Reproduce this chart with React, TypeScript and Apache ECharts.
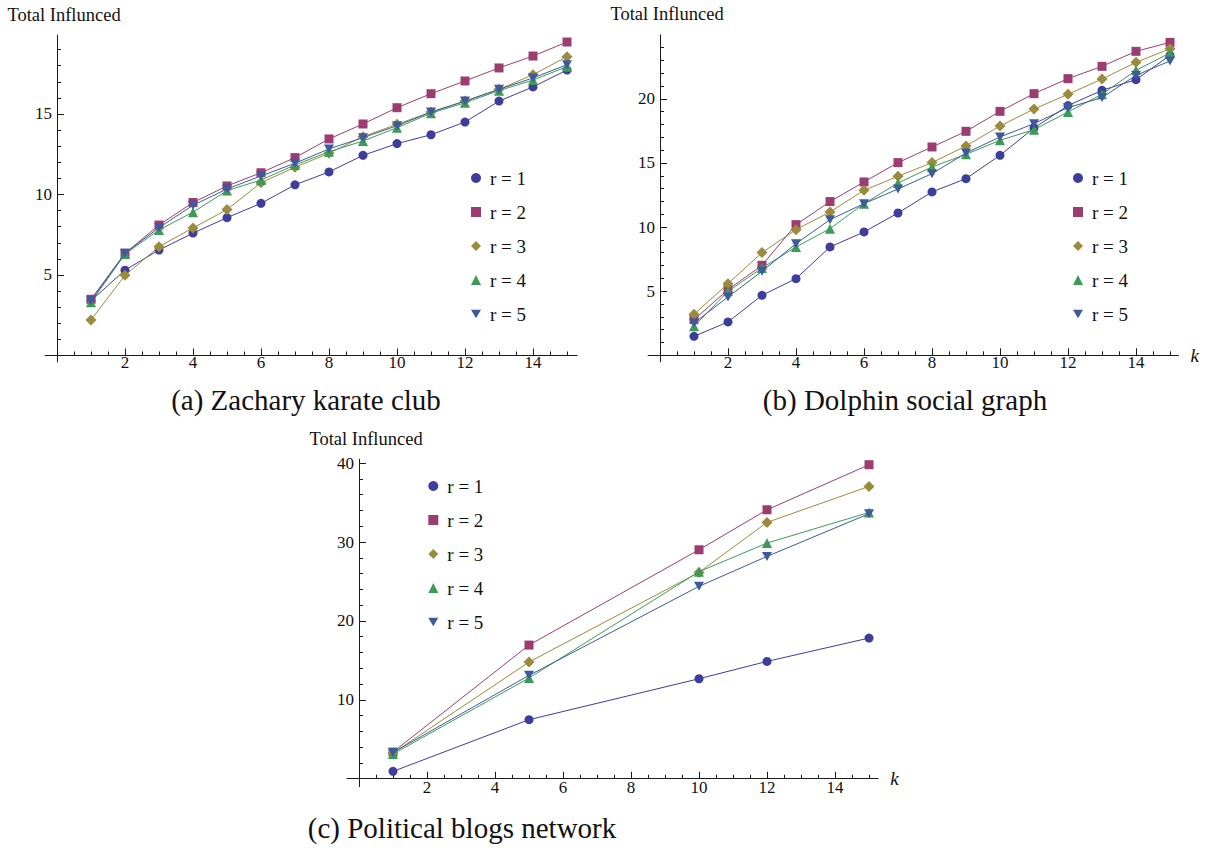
import React, { useEffect, useRef } from 'react';
import * as echarts from 'echarts';

const FONT = 'Liberation Serif';

const SERIES_NAMES = ['r = 1', 'r = 2', 'r = 3', 'r = 4', 'r = 5'];
const COLORS = ['#3d3d9b', '#9b3d71', '#9a8b3d', '#3d9a57', '#3d5a9b'];
const SYMBOLS = ['circle', 'rect', 'diamond', 'triangle', 'path://M0,0L10,0L5,8.66Z'];
const SYMBOL_SIZES: any[] = [9, 9, 11, 10, [10, 9]];
const LEGEND_ICONS = ['circle', 'rect', 'diamond', 'triangle', 'path://M0,0L10,0L5,8.66Z'];

// x values
const K15 = [1, 2, 3, 4, 5, 6, 7, 8, 9, 10, 11, 12, 13, 14, 15];
const K_BLOGS = [1, 5, 10, 12, 15];

// (a) Zachary karate club
const karateR1 = [3.4, 5.3, 6.55, 7.6, 8.56, 9.45, 10.6, 11.4, 12.43, 13.16, 13.71, 14.5, 15.8, 16.68, 17.73];
const karateR2 = [3.49, 6.35, 8.1, 9.5, 10.53, 11.35, 12.29, 13.45, 14.38, 15.39, 16.26, 17.05, 17.86, 18.6, 19.47];
const karateR3 = [2.2, 4.98, 6.76, 7.92, 9.06, 10.73, 11.69, 12.56, 13.59, 14.36, 15.12, 15.8, 16.53, 17.44, 18.56];
const karateR4 = [3.3, 6.3, 7.8, 8.9, 10.24, 10.9, 11.83, 12.66, 13.32, 14.15, 15.05, 15.7, 16.45, 17.11, 17.94];
const karateR5 = [3.4, 6.35, 7.94, 9.33, 10.34, 11.15, 11.94, 12.83, 13.53, 14.27, 15.12, 15.8, 16.53, 17.24, 18.06];

// (b) Dolphin social graph
const dolphinR1 = [1.48, 2.6, 4.68, 5.98, 8.45, 9.62, 11.1, 12.74, 13.78, 15.6, 17.73, 19.48, 20.67, 21.5, 23.4];
const dolphinR2 = [2.78, 5.12, 7.02, 10.19, 11.99, 13.52, 15.03, 16.25, 17.47, 19.03, 20.41, 21.58, 22.54, 23.71, 24.41];
const dolphinR3 = [3.2, 5.59, 8.01, 9.8, 11.18, 12.87, 13.96, 15.03, 16.33, 17.89, 19.21, 20.36, 21.55, 22.85, 23.92];
const dolphinR4 = [2.26, 4.99, 6.81, 8.45, 9.88, 11.83, 13.44, 14.69, 15.68, 16.77, 17.6, 18.98, 20.36, 22.23, 23.58];
const dolphinR5 = [2.52, 4.55, 6.55, 8.71, 10.58, 11.83, 12.97, 14.17, 15.78, 17.03, 18.07, 19.32, 20.1, 21.84, 22.96];

// (c) Political blogs network
const blogsR1 = [0.93, 7.48, 12.67, 14.87, 17.83];
const blogsR2 = [3.38, 16.94, 29.02, 34.09, 39.8];
const blogsR3 = [3.25, 14.79, 26.15, 32.49, 37.05];
const blogsR4 = [3.13, 12.76, 26.24, 29.87, 33.75];
const blogsR5 = [3.33, 13.1, 24.38, 28.18, 33.59];

// tick labels / tick positions
const X_MAJOR = [2, 4, 6, 8, 10, 12, 14];
const X_MINOR = [0.5, 1, 1.5, 2.5, 3, 3.5, 4.5, 5, 5.5, 6.5, 7, 7.5, 8.5, 9, 9.5, 10.5, 11, 11.5, 12.5, 13, 13.5, 14.5, 15];
const YA_MAJOR = [5, 10, 15];
const YA_MINOR = [1, 2, 3, 4, 6, 7, 8, 9, 11, 12, 13, 14, 16, 17, 18, 19];
const YB_MAJOR = [5, 10, 15, 20];
const YB_MINOR = [1, 2, 3, 4, 6, 7, 8, 9, 11, 12, 13, 14, 16, 17, 18, 19, 21, 22, 23, 24];
const YC_MAJOR = [10, 20, 30, 40];
const YC_MINOR = [2, 4, 6, 8, 12, 14, 16, 18, 22, 24, 26, 28, 32, 34, 36, 38];

const Y_NAME = 'Total Influnced';
const CAPTIONS = ['(a) Zachary karate club', '(b) Dolphin social graph', '(c) Political blogs network'];

const panels = [
  {
    grid: { left: 45.1, top: 35.1, width: 532.1, height: 326.8 },
    xRange: [-0.35, 15.3], yRange: [-0.4, 19.9],
    yMajor: YA_MAJOR, yMinor: YA_MINOR, showK: false,
    xs: K15, ys: [karateR1, karateR2, karateR3, karateR4, karateR5],
    legend: { left: 466, top: 163.5 },
  },
  {
    grid: { left: 648.1, top: 34.8, width: 530.4, height: 326.9 },
    xRange: [-0.35, 15.25], yRange: [-0.5, 25],
    yMajor: YB_MAJOR, yMinor: YB_MINOR, showK: true,
    xs: K15, ys: [dolphinR1, dolphinR2, dolphinR3, dolphinR4, dolphinR5],
    legend: { left: 1068, top: 163.5 },
  },
  {
    grid: { left: 347.1, top: 459.2, width: 531.1, height: 327.4 },
    xRange: [-0.35, 15.27], yRange: [-1, 40.5],
    yMajor: YC_MAJOR, yMinor: YC_MINOR, showK: true,
    xs: K_BLOGS, ys: [blogsR1, blogsR2, blogsR3, blogsR4, blogsR5],
    legend: { left: 423.3, top: 471.5 },
  },
];

const AXIS_COLOR = '#1a1a1a';

function buildOption() {
  const grid: any[] = [];
  const xAxis: any[] = [];
  const yAxis: any[] = [];
  const series: any[] = [];
  const legend: any[] = [];

  panels.forEach((p, gi) => {
    grid.push({ ...p.grid, containLabel: false });
    const maj = 2 * gi;
    xAxis.push({
      type: 'value', gridIndex: gi, min: p.xRange[0], max: p.xRange[1], position: 'bottom',
      name: p.showK ? 'k' : '', nameLocation: 'end', nameGap: 12,
      nameTextStyle: { fontFamily: FONT, fontSize: 19, fontStyle: 'italic', color: '#111', verticalAlign: 'middle' },
      axisLine: { show: true, onZero: true, onZeroAxisIndex: maj, lineStyle: { color: AXIS_COLOR, width: 1 } },
      axisTick: { show: true, inside: true, length: 7, customValues: X_MAJOR, lineStyle: { color: AXIS_COLOR, width: 1 } },
      axisLabel: { show: true, customValues: X_MAJOR, margin: -8, fontFamily: FONT, fontSize: 17, color: '#111' },
      splitLine: { show: false },
    });
    xAxis.push({
      type: 'value', gridIndex: gi, min: p.xRange[0], max: p.xRange[1], position: 'bottom',
      axisLine: { show: false, onZero: true, onZeroAxisIndex: maj },
      axisTick: { show: true, inside: true, length: 4, customValues: X_MINOR, lineStyle: { color: AXIS_COLOR, width: 1 } },
      axisLabel: { show: false },
      splitLine: { show: false },
    });
    yAxis.push({
      type: 'value', gridIndex: gi, min: p.yRange[0], max: p.yRange[1], position: 'left',
      name: Y_NAME, nameLocation: 'end', nameGap: 11,
      nameTextStyle: { fontFamily: FONT, fontSize: 18.5, color: '#111', align: 'center', padding: [0, 0, 0, 14] },
      axisLine: { show: true, onZero: true, onZeroAxisIndex: maj, lineStyle: { color: AXIS_COLOR, width: 1 } },
      axisTick: { show: true, inside: true, length: 7, customValues: p.yMajor, lineStyle: { color: AXIS_COLOR, width: 1 } },
      axisLabel: { show: true, customValues: p.yMajor, margin: -7, fontFamily: FONT, fontSize: 17, color: '#111' },
      splitLine: { show: false },
    });
    yAxis.push({
      type: 'value', gridIndex: gi, min: p.yRange[0], max: p.yRange[1], position: 'left',
      axisLine: { show: false, onZero: true, onZeroAxisIndex: maj },
      axisTick: { show: true, inside: true, length: 4, customValues: p.yMinor, lineStyle: { color: AXIS_COLOR, width: 1 } },
      axisLabel: { show: false },
      splitLine: { show: false },
    });

    p.ys.forEach((vals, si) => {
      series.push({
        type: 'line',
        name: SERIES_NAMES[si],
        xAxisIndex: maj, yAxisIndex: maj,
        data: p.xs.map((x, i) => [x, vals[i]]),
        symbol: SYMBOLS[si],
        symbolSize: SYMBOL_SIZES[si],
        showSymbol: true,
        color: COLORS[si],
        itemStyle: { color: COLORS[si] },
        lineStyle: { color: COLORS[si], width: 1 },
        emphasis: { disabled: true },
        z: 2 + si,
      });
    });

    legend.push({
      orient: 'vertical',
      left: p.legend.left, top: p.legend.top,
      itemWidth: 10, itemHeight: 10, itemGap: 15,
      selectedMode: false,
      textStyle: { fontFamily: FONT, fontSize: 19, color: '#111', lineHeight: 19, padding: [0, 0, 0, 4] },
      data: SERIES_NAMES.map((n, i) => ({ name: n, icon: LEGEND_ICONS[i] })),
    });
  });

  const graphic = [
    { type: 'text', x: 306, y: 400, style: { text: CAPTIONS[0], fontFamily: FONT, fontSize: 29, fill: '#111', align: 'center', verticalAlign: 'middle' } },
    { type: 'text', x: 905, y: 400, style: { text: CAPTIONS[1], fontFamily: FONT, fontSize: 29, fill: '#111', align: 'center', verticalAlign: 'middle' } },
    { type: 'text', x: 462, y: 828, style: { text: CAPTIONS[2], fontFamily: FONT, fontSize: 29, fill: '#111', align: 'center', verticalAlign: 'middle' } },
  ];

  return {
    animation: false,
    backgroundColor: '#ffffff',
    textStyle: { fontFamily: FONT },
    grid, xAxis, yAxis, series, legend, graphic,
  };
}

export default function App() {
  const ref = useRef<HTMLDivElement>(null);
  useEffect(() => {
    if (!ref.current) return;
    const chart = echarts.init(ref.current, null, { renderer: 'svg' });
    chart.setOption(buildOption() as any);
    return () => chart.dispose();
  }, []);
  return (
    <div
      ref={ref}
      style={{ position: 'fixed', left: 0, top: 0, width: 1212, height: 851, background: '#fff' }}
    />
  );
}
